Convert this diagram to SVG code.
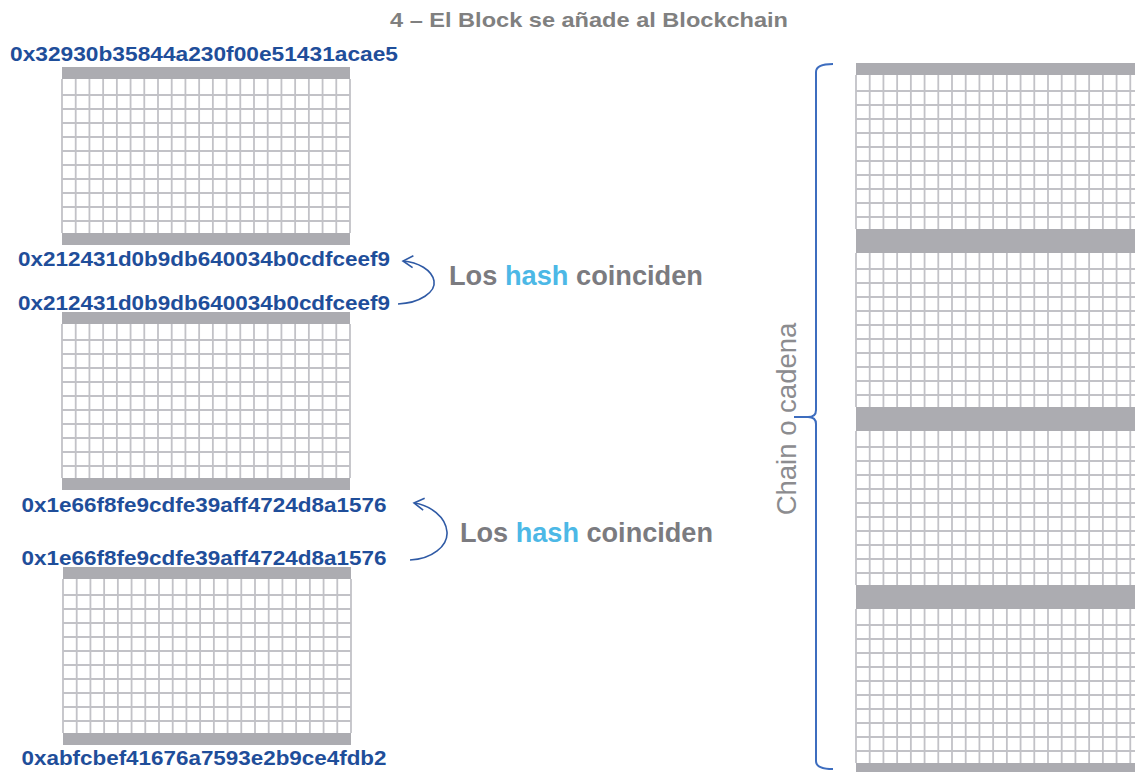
<svg xmlns="http://www.w3.org/2000/svg" xmlns:xlink="http://www.w3.org/1999/xlink" width="1135" height="772" viewBox="0 0 1135 772">
<style>
.bar{fill:#acacb1}
.grid{fill:none;stroke:#c2c2c7;stroke-width:1.8}
.hash{font-family:"Liberation Sans",Arial,sans-serif;font-weight:bold;font-size:21px;fill:#1f4e9a}
.note{font-family:"Liberation Sans",Arial,sans-serif;font-weight:bold;font-size:27px;fill:#7b7b80}
.hl{fill:#4cb8e6}
.title{font-family:"Liberation Sans",Arial,sans-serif;font-weight:bold;font-size:21px;fill:#808080}
.chain{font-family:"Liberation Sans",Arial,sans-serif;font-size:27.5px;fill:#8c8c8f}
.arrow{fill:none;stroke:#2f5aa5;stroke-width:1.6}
.brace{fill:none;stroke:#3d6dbf;stroke-width:2}
</style>
<defs>
<marker id="chev" markerWidth="14" markerHeight="14" viewBox="-12 -7 14 14" refX="0" refY="0" orient="auto" markerUnits="userSpaceOnUse" overflow="visible">
<path d="M-10,-6 L0,0 L-10,6" fill="none" stroke="#2f5aa5" stroke-width="1.6"/>
</marker>
<g id="blk">
<rect x="0" y="12" width="288" height="154" fill="#ffffff"/>
<path class="grid" d="M0,12V166M13.71,12V166M27.43,12V166M41.14,12V166M54.86,12V166M68.57,12V166M82.29,12V166M96,12V166M109.71,12V166M123.43,12V166M137.14,12V166M150.86,12V166M164.57,12V166M178.29,12V166M192,12V166M205.71,12V166M219.43,12V166M233.14,12V166M246.86,12V166M260.57,12V166M274.29,12V166M288,12V166M0,28H288M0,42H288M0,56H288M0,70H288M0,84H288M0,98H288M0,112H288M0,126H288M0,140H288M0,154H288"/>
<rect class="bar" x="0" y="0" width="288" height="12"/>
<rect class="bar" x="0" y="166" width="288" height="12"/>
</g>
</defs>
<rect width="1135" height="772" fill="#ffffff"/>

<g id="title"><text class="title" x="390" y="26.5" textLength="398" lengthAdjust="spacingAndGlyphs">4 – El Block se añade al Blockchain</text></g>

<g id="block1"><use href="#blk" xlink:href="#blk" transform="translate(62,67)"/></g>
<g id="block2"><use href="#blk" xlink:href="#blk" transform="translate(62,312)"/></g>
<g id="block3"><use href="#blk" xlink:href="#blk" transform="translate(63,567)"/></g>

<g id="chain">
<g id="chain1"><use href="#blk" xlink:href="#blk" transform="translate(856,63)"/></g>
<g id="chain2"><use href="#blk" xlink:href="#blk" transform="translate(856,241)"/></g>
<g id="chain3"><use href="#blk" xlink:href="#blk" transform="translate(856,419)"/></g>
<g id="chain4"><use href="#blk" xlink:href="#blk" transform="translate(856,597)"/></g>
</g>

<g id="hashes">
<text class="hash" x="10" y="61" textLength="388" lengthAdjust="spacingAndGlyphs">0x32930b35844a230f00e51431acae5</text>
<text class="hash" x="18" y="265.5" textLength="372" lengthAdjust="spacingAndGlyphs">0x212431d0b9db640034b0cdfceef9</text>
<text class="hash" x="18" y="310" textLength="372" lengthAdjust="spacingAndGlyphs">0x212431d0b9db640034b0cdfceef9</text>
<text class="hash" x="21.5" y="511.5" textLength="365" lengthAdjust="spacingAndGlyphs">0x1e66f8fe9cdfe39aff4724d8a1576</text>
<text class="hash" x="21.5" y="565" textLength="365" lengthAdjust="spacingAndGlyphs">0x1e66f8fe9cdfe39aff4724d8a1576</text>
<text class="hash" x="21.5" y="765" textLength="365" lengthAdjust="spacingAndGlyphs">0xabfcbef41676a7593e2b9ce4fdb2</text>
</g>

<g id="note1"><text class="note" x="449" y="285" textLength="254" lengthAdjust="spacingAndGlyphs">Los <tspan class="hl">hash</tspan> coinciden</text></g>
<g id="note2"><text class="note" x="460" y="541.5" textLength="253" lengthAdjust="spacingAndGlyphs">Los <tspan class="hl">hash</tspan> coinciden</text></g>

<g id="chainLabel"><text class="chain" transform="translate(796,419) rotate(-90)" x="0" y="0" text-anchor="middle">Chain o cadena</text></g>

<g id="connectors">
<path class="arrow" marker-end="url(#chev)" d="M398,304 C420,303 436,292 434,281 C432,270 418,262 403,261"/>
<path class="arrow" marker-end="url(#chev)" d="M410,560 C432,559 448,546 447,532 C446,517 430,505 414,503"/>
<path class="brace" d="M833,64 Q816,64 816,72 L816,410 Q816,417 808,417 L794,417 M808,417 Q816,417 816,424 L816,761 Q816,769 833,769"/>
</g>
</svg>
